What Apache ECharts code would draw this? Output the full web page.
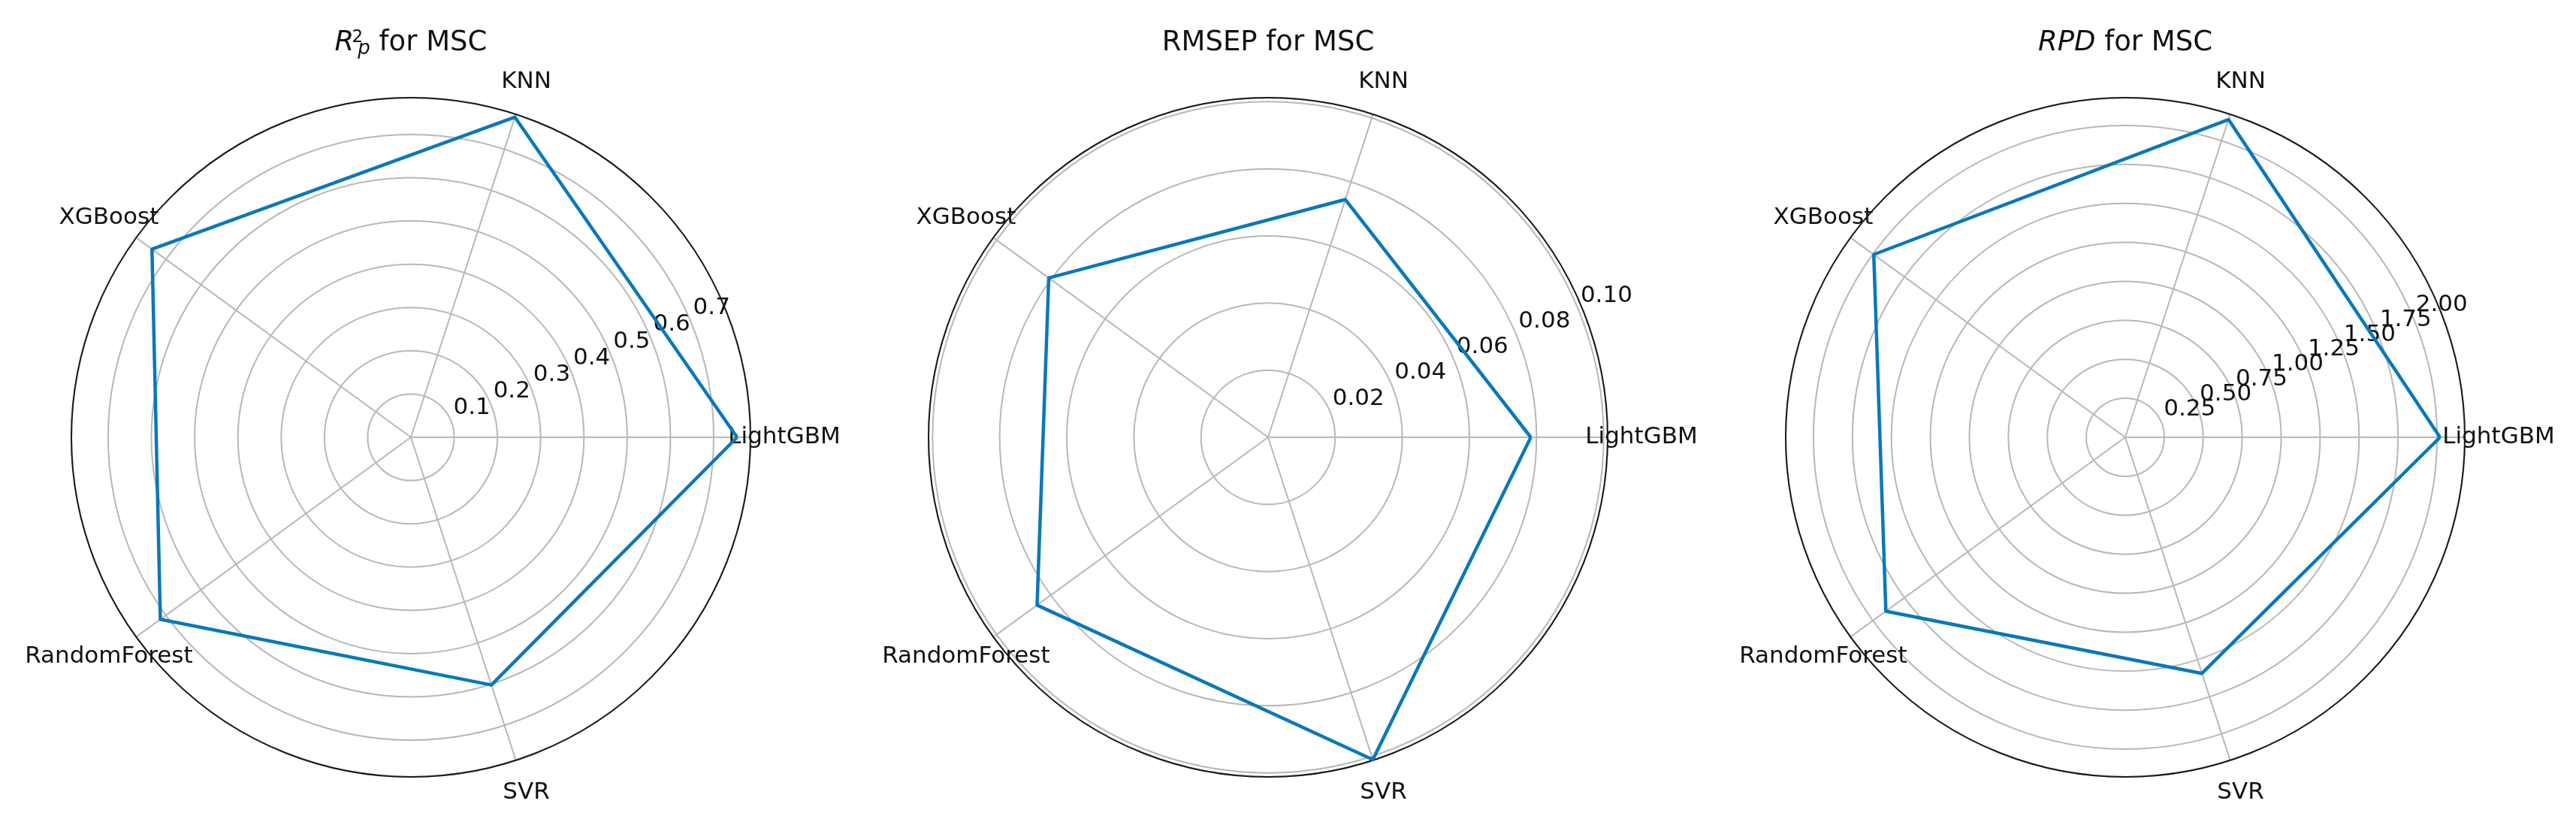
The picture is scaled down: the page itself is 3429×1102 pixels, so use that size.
<!DOCTYPE html>
<html>
<head>
<meta charset="utf-8">
<script src="https://cdn.jsdelivr.net/npm/echarts@6/dist/echarts.min.js"></script>
<style>
  html, body { margin: 0; padding: 0; background: #ffffff; }
  #chart { width: 3429px; height: 1102px; }
</style>
</head>
<body>
<div id="chart"></div>
<script>
// data
const categories = ['LightGBM', 'KNN', 'XGBoost', 'RandomForest', 'SVR'];
const r2Values = [0.754, 0.778, 0.740, 0.716, 0.602];
const rmsepValues = [0.0783, 0.0745, 0.0808, 0.0851, 0.1010];
const rpdValues = [2.019, 2.143, 1.994, 1.898, 1.592];

// radial scale of each panel: outer edge, ring step, decimals of the tick labels
const radialMax = [0.785, 0.1012, 2.178];
const radialStep = [0.1, 0.02, 0.25];
const tickDigits = [1, 2, 2];

const panelValues = [r2Values, rmsepValues, rpdValues];
const titles = [
  '{it|R}{sup|2}{sub|p}{n| for MSC}',
  '{n|RMSEP for MSC}',
  '{it|RPD}{n| for MSC}'
];

const FONT = 'DejaVu Sans';
const TXT = '#111111';
const GRID = '#b8b8b8';
const BLUE = '#0a78ba';

// layout
const centersX = [547, 1688, 2829];
const centerY = 582;
const R = 452;

const titleRich = {
  it: { fontFamily: FONT, fontSize: 37, fontStyle: 'italic', color: TXT },
  n: { fontFamily: FONT, fontSize: 37, color: TXT },
  sup: { fontFamily: FONT, fontSize: 23, color: TXT, width: 1, padding: [0, 0, 15, 4] },
  sub: { fontFamily: FONT, fontSize: 26, fontStyle: 'italic', color: TXT, padding: [15, 0, 0, 0] }
};

const chart = echarts.init(document.getElementById('chart'), null, { renderer: 'canvas' });

const option = {
  backgroundColor: '#ffffff',
  animation: false,
  title: centersX.map((cx, i) => ({
    text: titles[i],
    left: cx,
    top: i === 0 ? 37 : 39,
    textAlign: 'center',
    padding: 0,
    textStyle: { fontFamily: FONT, fontSize: 37, fontWeight: 'normal', color: TXT, rich: titleRich }
  })),
  polar: centersX.map(cx => ({ center: [cx, centerY], radius: R })),
  angleAxis: centersX.map((cx, i) => ({
    polarIndex: i,
    type: 'value',
    min: 0,
    max: 360,
    startAngle: 22.5,
    clockwise: false,
    z: 1,
    axisLine: { show: true, lineStyle: { color: '#1a1a1a', width: 2 } },
    axisTick: { show: false },
    axisLabel: { show: false },
    splitLine: { show: false }
  })),
  radiusAxis: centersX.map((cx, i) => ({
    polarIndex: i,
    type: 'value',
    min: 0,
    max: radialMax[i],
    interval: radialStep[i],
    axisLine: { show: false },
    axisTick: { show: false },
    splitLine: { show: true, lineStyle: { color: GRID, width: 2 } },
    axisLabel: {
      margin: 2,
      align: 'left',
      verticalAlign: 'bottom',
      padding: [0, 0, 0, 4],
      fontFamily: FONT,
      fontSize: 31,
      color: TXT,
      formatter: v => {
        const k = v / radialStep[i];
        if (v <= 0 || Math.abs(k - Math.round(k)) > 1e-6) return '';
        return v.toFixed(tickDigits[i]);
      }
    }
  })),
  radar: centersX.map((cx, i) => ({
    center: [cx, centerY],
    radius: R,
    startAngle: 0,
    shape: 'circle',
    indicator: categories.map(name => ({ name: name, min: 0, max: radialMax[i] })),
    nameGap: 45,
    axisName: { color: TXT, fontFamily: FONT, fontSize: 31, align: 'center', verticalAlign: 'middle' },
    axisLine: { lineStyle: { color: GRID, width: 2 } },
    splitLine: { show: false },
    splitArea: { show: false },
    axisTick: { show: false },
    axisLabel: { show: false }
  })),
  series: panelValues.map((vals, i) => ({
    type: 'radar',
    radarIndex: i,
    symbol: 'none',
    z: 5,
    lineStyle: { color: BLUE, width: 4.5 },
    data: [{ value: vals }]
  }))
};

chart.setOption(option);
</script>
</body>
</html>
